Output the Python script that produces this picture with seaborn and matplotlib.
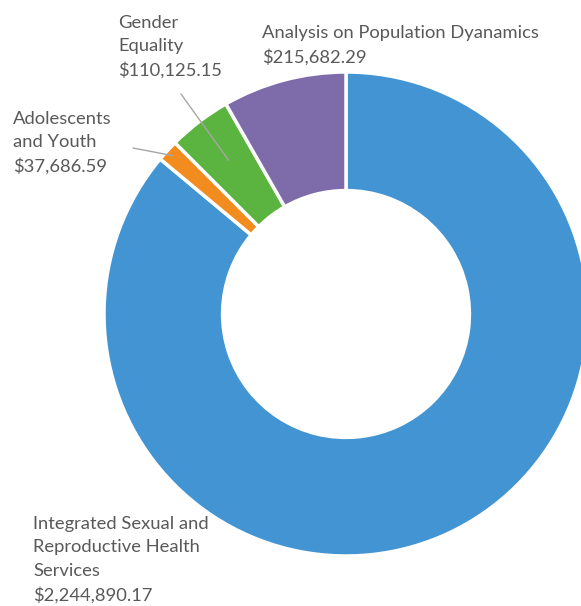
import numpy as np
import matplotlib
matplotlib.use("Agg")
import matplotlib.pyplot as plt
import seaborn as sns

sns.set_theme(style="white")
plt.rcParams["font.family"] = ["Lato", "DejaVu Sans"]

# Funding by programme area (clockwise from 12 o'clock)
categories = [
    "Integrated Sexual and\nReproductive Health\nServices",
    "Adolescents\nand Youth",
    "Gender\nEquality",
    "Analysis on Population Dyanamics",
]
amounts = [2244890.17, 37686.59, 110125.15, 215682.29]
colors = ["#4394D3", "#F28C1E", "#5CB440", "#7D6BAA"]

W, H = 581, 606
fig = plt.figure(figsize=(W / 100, H / 100), dpi=100)
ax = fig.add_axes([0, 0, 1, 1])

cx, cy, r = 346, H - 314, 242
wedges, _ = ax.pie(
    amounts,
    colors=colors,
    startangle=90,
    counterclock=False,
    center=(cx, cy),
    radius=r,
    wedgeprops=dict(width=r * 0.49, edgecolor="white", linewidth=2.5),
)
ax.set_xlim(0, W)
ax.set_ylim(0, H)
ax.set_aspect("equal")
ax.axis("off")

text_color = "#595959"
fs = 13.2
label_pos = [(33, 516), (13, 111), (118, 15), (262, 25)]
for cat, amt, (px, py) in zip(categories, amounts, label_pos):
    ax.text(px, H - py, f"{cat}\n${amt:,.2f}", ha="left", va="top",
            fontsize=fs, color=text_color, linespacing=1.56)

# leader lines for the small slices
def wedge_point(w, frac):
    ang = np.deg2rad((w.theta1 + w.theta2) / 2)
    rr = r * frac
    return cx + rr * np.cos(ang), cy + rr * np.sin(ang)

leaders = [(1, (133, 148), 0.97), (2, (181, 94), 0.8)]
for idx, (sx, sy), frac in leaders:
    ex, ey = wedge_point(wedges[idx], frac)
    ax.plot([sx, ex], [H - sy, ey], color="#A6A6A6", lw=1)

fig.savefig("out.png", dpi=100)
